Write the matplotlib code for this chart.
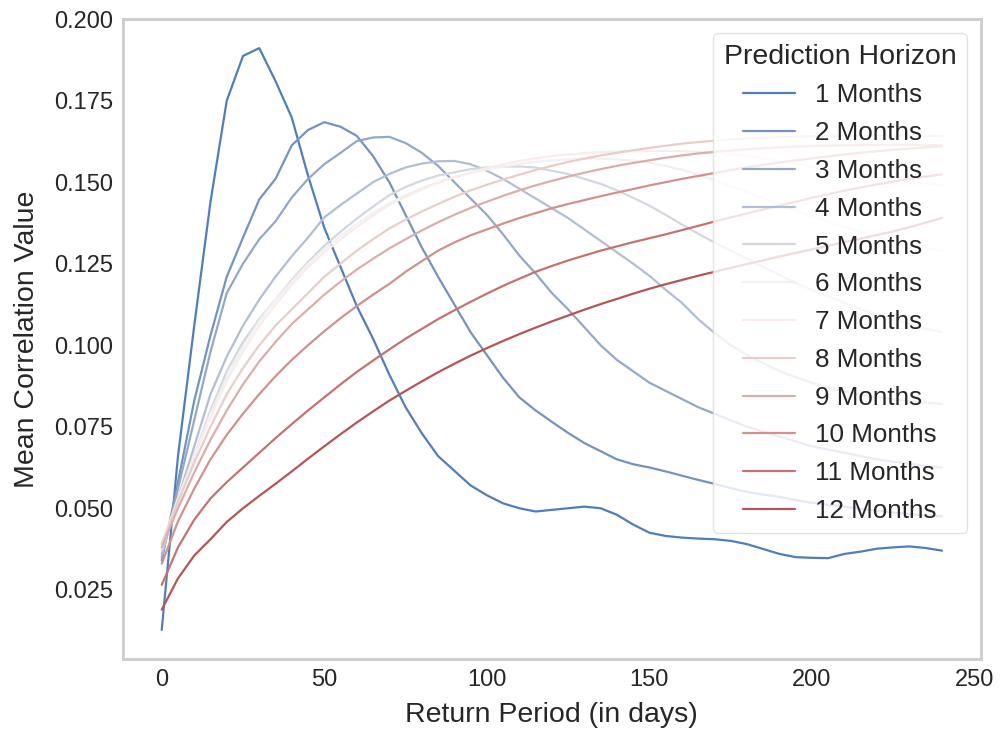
import matplotlib
matplotlib.use("Agg")
import matplotlib.pyplot as plt
import seaborn as sns

# return period in days
days = [0, 5, 10, 15, 20, 25, 30, 35, 40, 45, 50, 55, 60, 65, 70, 75, 80, 85, 90, 95,
        100, 105, 110, 115, 120, 125, 130, 135, 140, 145, 150, 155, 160, 165, 170, 175,
        180, 185, 190, 195, 200, 205, 210, 215, 220, 225, 230, 235, 240]

# mean correlation for each prediction horizon
m1 = [0.0127, 0.066, 0.106, 0.144, 0.175, 0.1887, 0.1911, 0.181, 0.1698, 0.152, 0.136, 0.124,
      0.112, 0.102, 0.091, 0.081, 0.073, 0.066, 0.0615, 0.057, 0.054, 0.0515, 0.050, 0.049,
      0.0495, 0.050, 0.0505, 0.050, 0.048, 0.045, 0.0425, 0.0415, 0.041, 0.0407, 0.0405, 0.040,
      0.039, 0.0375, 0.036, 0.035, 0.0348, 0.0347, 0.036, 0.0367, 0.0376, 0.038, 0.0383, 0.0378, 0.037]
m2 = [0.034, 0.058, 0.083, 0.103, 0.121, 0.133, 0.1447, 0.151, 0.1613, 0.166, 0.1684, 0.167,
      0.1642, 0.158, 0.150, 0.140, 0.130, 0.121, 0.1125, 0.104, 0.097, 0.090, 0.084, 0.080,
      0.0765, 0.0731, 0.070, 0.0675, 0.065, 0.0635, 0.0625, 0.0613, 0.060, 0.0587, 0.0575, 0.0562,
      0.055, 0.0542, 0.0535, 0.0525, 0.0517, 0.051, 0.0505, 0.0498, 0.0492, 0.0487, 0.0482, 0.0478, 0.0475]
m3 = [0.035, 0.056, 0.077, 0.098, 0.116, 0.125, 0.1325, 0.138, 0.1453, 0.151, 0.1555, 0.159,
      0.1626, 0.1637, 0.1639, 0.162, 0.159, 0.155, 0.150, 0.145, 0.140, 0.134, 0.1275, 0.122,
      0.116, 0.111, 0.1055, 0.100, 0.0955, 0.092, 0.0885, 0.086, 0.0835, 0.081, 0.079, 0.077,
      0.075, 0.0735, 0.072, 0.0705, 0.069, 0.068, 0.067, 0.066, 0.065, 0.0643, 0.0637, 0.063, 0.0625]
m4 = [0.036, 0.053, 0.069, 0.085, 0.0965, 0.106, 0.114, 0.121, 0.1273, 0.133, 0.1392, 0.143,
      0.1465, 0.150, 0.1525, 0.1545, 0.1557, 0.1564, 0.1565, 0.1555, 0.1535, 0.151, 0.148, 0.145,
      0.142, 0.139, 0.1355, 0.132, 0.1285, 0.125, 0.1213, 0.117, 0.113, 0.108, 0.1038, 0.100,
      0.097, 0.0945, 0.092, 0.0902, 0.0885, 0.087, 0.0858, 0.0848, 0.084, 0.0834, 0.0828, 0.0824, 0.082]
m5 = [0.037, 0.052, 0.066, 0.080, 0.092, 0.101, 0.108, 0.114, 0.120, 0.1255, 0.1305, 0.1348,
      0.1388, 0.1425, 0.146, 0.1485, 0.1505, 0.152, 0.153, 0.154, 0.1545, 0.1548, 0.1548, 0.1545,
      0.1535, 0.1525, 0.151, 0.1495, 0.1475, 0.1452, 0.1428, 0.140, 0.137, 0.1342, 0.1315, 0.129,
      0.1265, 0.124, 0.1215, 0.119, 0.117, 0.115, 0.113, 0.111, 0.1095, 0.108, 0.1065, 0.105, 0.104]
m6 = [0.038, 0.052, 0.066, 0.079, 0.090, 0.0995, 0.1075, 0.114, 0.1195, 0.125, 0.1295, 0.1335,
      0.1372, 0.1405, 0.1435, 0.146, 0.1482, 0.150, 0.1515, 0.1528, 0.1539, 0.1548, 0.1556, 0.1562,
      0.1567, 0.157, 0.1572, 0.1572, 0.157, 0.1566, 0.156, 0.155, 0.1538, 0.1523, 0.1506, 0.1488,
      0.147, 0.1451, 0.1432, 0.1413, 0.1395, 0.1378, 0.1362, 0.1347, 0.1333, 0.132, 0.1309, 0.1299, 0.129]
m7 = [0.039, 0.053, 0.066, 0.078, 0.089, 0.098, 0.106, 0.1125, 0.1185, 0.124, 0.1285, 0.1325,
      0.1362, 0.1397, 0.143, 0.1455, 0.1478, 0.1498, 0.1515, 0.153, 0.1543, 0.1555, 0.1565, 0.1573,
      0.158, 0.1585, 0.1589, 0.1592, 0.1594, 0.1595, 0.1596, 0.1596, 0.1595, 0.1593, 0.159, 0.1586,
      0.158, 0.1573, 0.1565, 0.1556, 0.1547, 0.1538, 0.153, 0.1522, 0.1514, 0.1507, 0.1501, 0.1495, 0.149]
m8 = [0.039, 0.052, 0.064, 0.075, 0.085, 0.093, 0.100, 0.106, 0.111, 0.116, 0.121, 0.125,
      0.129, 0.1325, 0.1358, 0.1385, 0.141, 0.1433, 0.1455, 0.1475, 0.1492, 0.1508, 0.1523, 0.1537,
      0.155, 0.1562, 0.1572, 0.1582, 0.159, 0.1598, 0.1605, 0.1612, 0.1618, 0.1623, 0.1627, 0.1631,
      0.1634, 0.1636, 0.1638, 0.164, 0.1641, 0.1642, 0.1643, 0.1643, 0.1643, 0.1643, 0.1643, 0.1642, 0.1642]
m9 = [0.038, 0.050, 0.061, 0.071, 0.080, 0.088, 0.095, 0.101, 0.1065, 0.111, 0.1155, 0.1195,
      0.1232, 0.1265, 0.1297, 0.1325, 0.1352, 0.1377, 0.140, 0.1421, 0.144, 0.1458, 0.1475, 0.149,
      0.1504, 0.1517, 0.1529, 0.154, 0.155, 0.1559, 0.1567, 0.1575, 0.1582, 0.1588, 0.1593, 0.1597,
      0.1601, 0.1604, 0.1607, 0.1609, 0.1611, 0.1612, 0.1613, 0.1614, 0.1614, 0.1614, 0.1614, 0.1614, 0.1613]
m10 = [0.033, 0.046, 0.056, 0.065, 0.0725, 0.079, 0.085, 0.0905, 0.0955, 0.100, 0.1043, 0.1083,
       0.112, 0.1155, 0.1188, 0.1225, 0.1258, 0.129, 0.1315, 0.1337, 0.1355, 0.1373, 0.139, 0.1405,
       0.142, 0.1433, 0.1445, 0.1457, 0.1468, 0.1479, 0.149, 0.150, 0.151, 0.1519, 0.1528, 0.1537,
       0.1545, 0.1553, 0.156, 0.1567, 0.1573, 0.1579, 0.1585, 0.159, 0.1595, 0.1599, 0.1603, 0.1607, 0.161]
m11 = [0.0265, 0.038, 0.0465, 0.053, 0.058, 0.0625, 0.067, 0.0715, 0.0758, 0.080, 0.084, 0.088,
       0.0918, 0.0953, 0.0987, 0.102, 0.105, 0.108, 0.1107, 0.1133, 0.1158, 0.1182, 0.1204, 0.1225,
       0.1243, 0.126, 0.1275, 0.129, 0.1303, 0.1316, 0.1328, 0.134, 0.1353, 0.1366, 0.1379, 0.1392,
       0.1404, 0.1416, 0.1428, 0.144, 0.1452, 0.1463, 0.1474, 0.1484, 0.1493, 0.1502, 0.151, 0.1517, 0.1524]
m12 = [0.0189, 0.0285, 0.0355, 0.0405, 0.0458, 0.050, 0.0538, 0.0575, 0.0613, 0.0652, 0.069, 0.0727,
       0.0763, 0.0797, 0.083, 0.086, 0.0889, 0.0917, 0.0943, 0.0968, 0.0991, 0.1013, 0.1034, 0.1054,
       0.1073, 0.1091, 0.1109, 0.1126, 0.1142, 0.1158, 0.1173, 0.1187, 0.120, 0.1213, 0.1225, 0.1237,
       0.1249, 0.126, 0.1272, 0.1283, 0.1294, 0.1305, 0.1316, 0.1327, 0.1338, 0.1349, 0.1362, 0.1376, 0.139]

series = [m1, m2, m3, m4, m5, m6, m7, m8, m9, m10, m11, m12]
labels = ["%d Months" % (i + 1) for i in range(12)]

sns.set_style("white")
plt.rcParams['font.family'] = ['Liberation Sans', 'DejaVu Sans']
plt.rcParams['text.color'] = '.15'
plt.rcParams['axes.labelcolor'] = '.15'
plt.rcParams['xtick.color'] = '.15'
plt.rcParams['ytick.color'] = '.15'

colors = sns.color_palette("vlag", 12)

fig = plt.figure(figsize=(10.01, 7.33), dpi=100)
ax = fig.add_axes([0.1226, 0.101, 0.8574, 0.873])

for vals, lab, col in zip(series, labels, colors):
    ax.plot(days, vals, color=col, lw=1.6, label=lab)

ax.set_xlabel("Return Period (in days)", fontsize=20.5, labelpad=8)
ax.set_ylabel("Mean Correlation Value", fontsize=20.5, labelpad=10)
ax.tick_params(labelsize=17, pad=7, length=0)
ax.set_xticks([0, 50, 100, 150, 200, 250])
ax.set_yticks([0.025, 0.050, 0.075, 0.100, 0.125, 0.150, 0.175, 0.200])
ax.set_yticklabels(["0.025", "0.050", "0.075", "0.100", "0.125", "0.150", "0.175", "0.200"])

for sp in ax.spines.values():
    sp.set_color('#cccccc')
    sp.set_linewidth(2)

leg = ax.legend(title="Prediction Horizon", loc="upper right", fontsize=18.7,
                title_fontsize=20.5, framealpha=0.8, borderaxespad=0.55,
                labelspacing=0.53)
leg.get_frame().set_edgecolor('#dddddd')

fig.savefig("out.png", dpi=100)
